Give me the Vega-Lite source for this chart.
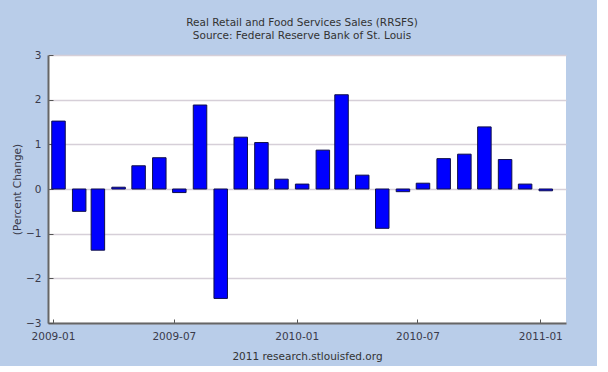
{
  "$schema": "https://vega.github.io/schema/vega-lite/v6.json",
  "width": 518,
  "height": 268,
  "autosize": {"type": "none"},
  "padding": {"left": 48, "top": 55, "right": 31, "bottom": 43},
  "background": "#b9cde9",
  "title": {
    "text": ["Real Retail and Food Services Sales (RRSFS)", "Source: Federal Reserve Bank of St. Louis"],
    "font": "DejaVu Sans",
    "fontSize": 10.5,
    "fontWeight": "normal",
    "color": "#333333",
    "anchor": "middle",
    "lineHeight": 12.5,
    "offset": 9,
    "dx": -5
  },
  "config": {
    "view": {"fill": "white", "stroke": null},
    "axis": {
      "labelFont": "DejaVu Sans",
      "labelFontSize": 10.5,
      "labelColor": "#3a3a4a",
      "titleFont": "DejaVu Sans",
      "titleFontSize": 10.5,
      "titleFontWeight": "normal",
      "titleColor": "#3a3a4a",
      "domainColor": "#666666",
      "domainWidth": 2,
      "tickColor": "#555555",
      "tickWidth": 1
    }
  },
  "data": {
    "values": [
      {"month": "2009-01-01", "change": 1.52},
      {"month": "2009-02-01", "change": -0.5},
      {"month": "2009-03-01", "change": -1.37},
      {"month": "2009-04-01", "change": 0.04},
      {"month": "2009-05-01", "change": 0.52},
      {"month": "2009-06-01", "change": 0.7},
      {"month": "2009-07-01", "change": -0.08},
      {"month": "2009-08-01", "change": 1.88},
      {"month": "2009-09-01", "change": -2.45},
      {"month": "2009-10-01", "change": 1.16},
      {"month": "2009-11-01", "change": 1.04},
      {"month": "2009-12-01", "change": 0.22},
      {"month": "2010-01-01", "change": 0.11},
      {"month": "2010-02-01", "change": 0.87},
      {"month": "2010-03-01", "change": 2.11},
      {"month": "2010-04-01", "change": 0.31},
      {"month": "2010-05-01", "change": -0.88},
      {"month": "2010-06-01", "change": -0.06},
      {"month": "2010-07-01", "change": 0.13},
      {"month": "2010-08-01", "change": 0.68},
      {"month": "2010-09-01", "change": 0.78},
      {"month": "2010-10-01", "change": 1.39},
      {"month": "2010-11-01", "change": 0.66},
      {"month": "2010-12-01", "change": 0.11},
      {"month": "2011-01-01", "change": -0.04}
    ]
  },
  "mark": {"type": "bar", "width": 13.5, "xOffset": 5.5, "fill": "#0000ff", "stroke": "#10104a", "strokeWidth": 1},
  "encoding": {
    "x": {
      "field": "month",
      "type": "temporal",
      "scale": {
        "type": "utc",
        "domain": [
          {"year": 2009, "month": 1, "date": 1, "utc": true},
          {"year": 2011, "month": 2, "date": 1, "utc": true}
        ]
      },
      "axis": {
        "values": [
          {"year": 2009, "month": 1, "date": 1, "utc": true},
          {"year": 2009, "month": 7, "date": 1, "utc": true},
          {"year": 2010, "month": 1, "date": 1, "utc": true},
          {"year": 2010, "month": 7, "date": 1, "utc": true},
          {"year": 2011, "month": 1, "date": 1, "utc": true}
        ],
        "labelExpr": "utcFormat(datum.value, '%Y-%m')",
        "grid": false,
        "tickSize": -4,
        "labelPadding": 12,
        "labelFlush": false,
        "labelOverlap": false,
        "title": "2011 research.stlouisfed.org",
        "titlePadding": 10,
        "titleColor": "#333333"
      }
    },
    "y": {
      "field": "change",
      "type": "quantitative",
      "scale": {"domain": [-3, 3], "nice": false, "zero": false},
      "axis": {
        "values": [-3, -2, -1, 0, 1, 2, 3],
        "grid": true,
        "gridColor": "#d6cfd8",
        "gridWidth": 1.5,
        "tickSize": -5,
        "labelPadding": 12,
        "title": "(Percent Change)",
        "titlePadding": 3
      }
    }
  }
}
